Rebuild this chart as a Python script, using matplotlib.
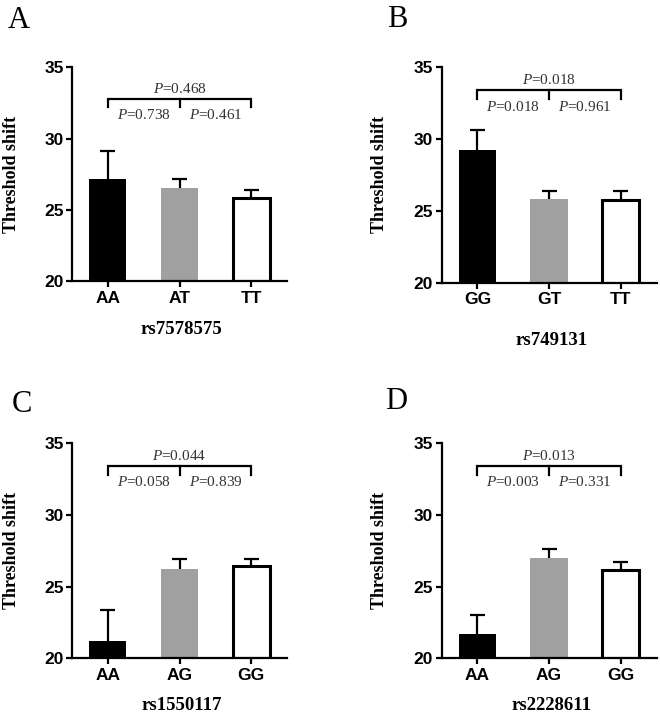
import matplotlib
matplotlib.use('Agg')
import matplotlib.pyplot as plt

plt.rcParams['mathtext.fontset'] = 'custom'
plt.rcParams['mathtext.it'] = 'Liberation Serif:italic'
plt.rcParams['mathtext.rm'] = 'Liberation Serif'

# data
snps = ['rs7578575', 'rs749131', 'rs1550117', 'rs2228611']
genotypes_a = ['AA', 'AT', 'TT']
genotypes_b = ['GG', 'GT', 'TT']
genotypes_c = ['AA', 'AG', 'GG']
genotypes_d = ['AA', 'AG', 'GG']
means_a = [27.15, 26.55, 25.8]
means_b = [29.2, 25.82, 25.76]
means_c = [21.2, 26.25, 26.42]
means_d = [21.68, 27.02, 26.15]
errs_a = [2.0, 0.65, 0.58]
errs_b = [1.4, 0.58, 0.64]
errs_c = [2.2, 0.66, 0.52]
errs_d = [1.37, 0.62, 0.55]
# p values: (outer 1 vs 3, 1 vs 2, 2 vs 3)
pvals_a = ['0.468', '0.738', '0.461']
pvals_b = ['0.018', '0.018', '0.961']
pvals_c = ['0.044', '0.058', '0.839']
pvals_d = ['0.013', '0.003', '0.331']
panel_labels = ['A', 'B', 'C', 'D']

SANS = 'Liberation Sans'
SERIF = 'Liberation Serif'
PCOL = '#333333'

fig = plt.figure(figsize=(6.6, 7.14), dpi=100)

# axes rectangles in figure fractions
rects = [
    [0.109, 0.606, 0.326, 0.300],
    [0.669, 0.604, 0.326, 0.302],
    [0.109, 0.078, 0.326, 0.301],
    [0.669, 0.078, 0.326, 0.301],
]
# bracket heights differ a bit between panels (bracket, tick bottom, top text, lower text)
brk = [
    (32.78, 32.18, 33.44, 31.64),
    (33.40, 32.77, 34.07, 32.24),
    (33.44, 32.79, 34.10, 32.28),
    (33.44, 32.80, 34.10, 32.28),
]
label_pos = [(0.012, 0.961), (0.586, 0.962), (0.018, 0.423), (0.583, 0.427)]
ylabel_x = [0.004, 0.562, 0.004, 0.562]
xlabel_y = [0.538, 0.5225, 0.0126, 0.0126]

all_geno = [genotypes_a, genotypes_b, genotypes_c, genotypes_d]
all_means = [means_a, means_b, means_c, means_d]
all_errs = [errs_a, errs_b, errs_c, errs_d]
all_p = [pvals_a, pvals_b, pvals_c, pvals_d]

colors = ['black', '#a0a0a0', 'white']

for i in range(4):
    ax = fig.add_axes(rects[i])
    x = list(range(3))
    means = all_means[i]
    errs = all_errs[i]
    tops = [m + e for m, e in zip(means, errs)]

    # upper error bars only
    ax.vlines(x, means, tops, color='black', lw=1.6, zorder=1)
    ax.hlines(tops, [v - 0.105 for v in x], [v + 0.105 for v in x],
              color='black', lw=1.6, zorder=1)
    bars = ax.bar(x, [m - 20 for m in means], bottom=20, width=0.52,
                  color=colors, zorder=2)
    bars[2].set_edgecolor('black')
    bars[2].set_linewidth(2.2)

    ax.set_xlim(-0.5, 2.5)
    ax.set_ylim(20, 35)
    ax.set_yticks([20, 25, 30, 35])
    ax.set_xticks(x)
    for sp in ['top', 'right']:
        ax.spines[sp].set_visible(False)
    for sp in ['left', 'bottom']:
        ax.spines[sp].set_linewidth(1.6)
    ax.tick_params(width=1.6, length=4)
    ax.tick_params(axis='y', pad=2)
    ax.tick_params(axis='x', pad=3)
    ax.set_xticklabels(all_geno[i], fontsize=12.5, family=SANS,
                       fontweight='bold')
    ax.set_yticklabels(['20', '25', '30', '35'], fontsize=12.5, family=SANS,
                       fontweight='bold')

    # significance brackets
    yb, yt, ytop, ylow = brk[i]
    ax.plot([0, 0, 2, 2], [yt, yb, yb, yt], color='black', lw=1.6,
            clip_on=False, solid_joinstyle='miter')
    ax.plot([1, 1], [yb, yt], color='black', lw=1.6, clip_on=False)
    p = all_p[i]
    ax.text(1, ytop, r'$\it{P}$=' + p[0], ha='center', va='center',
            fontsize=11, family=SERIF, color=PCOL)
    ax.text(0.5, ylow, r'$\it{P}$=' + p[1], ha='center', va='center',
            fontsize=11, family=SERIF, color=PCOL)
    ax.text(1.5, ylow, r'$\it{P}$=' + p[2], ha='center', va='center',
            fontsize=11, family=SERIF, color=PCOL)

    fig.text(ylabel_x[i], rects[i][1] + rects[i][3] / 2, 'Threshold shift',
             rotation=90, ha='left', va='center', fontsize=13,
             family=SERIF, fontweight='bold')
    fig.text(rects[i][0] + rects[i][2] / 2 + 0.003, xlabel_y[i], snps[i],
             ha='center', va='center', fontsize=13.5, family=SERIF,
             fontweight='bold')
    fig.text(label_pos[i][0], label_pos[i][1], panel_labels[i], ha='left',
             va='baseline', fontsize=22, family=SERIF)

fig.savefig('out.png', dpi=100)
